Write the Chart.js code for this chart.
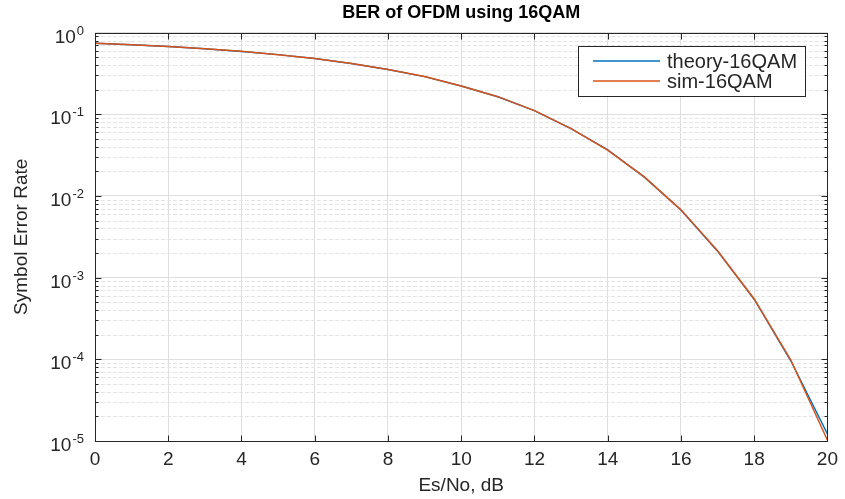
<!DOCTYPE html>
<html lang="en">
<head>
    <meta charset="UTF-8">
    <title>BER of OFDM using 16QAM</title>
    <script src="https://cdn.jsdelivr.net/npm/chart.js"></script>
    <style>
        body { margin: 0; background: #fff; }
        canvas { display: block; }
    </style>
</head>
<body>
    <canvas id="berChart" width="845" height="499"></canvas>

    <script>
        // Es/No in dB and the two SER curves
        const esNo = [0, 1, 2, 3, 4, 5, 6, 7, 8, 9, 10, 11, 12, 13, 14, 15, 16, 17, 18, 19, 20];
        const theorySER = [0.741, 0.710, 0.675, 0.635, 0.589, 0.5375, 0.481, 0.419, 0.354, 0.289, 0.222,
                           0.164, 0.111, 0.0667, 0.0366, 0.0170, 0.00673, 0.00211, 0.000545, 0.000096, 0.0000122];
        const simSER = [0.7405, 0.7098, 0.6752, 0.6347, 0.5893, 0.5372, 0.4808, 0.4184, 0.3539, 0.2893, 0.2218,
                        0.1643, 0.1108, 0.0668, 0.0364, 0.0171, 0.00676, 0.00213, 0.000548, 0.000098, 0.0000102];
        const decades = [1e-5, 1e-4, 1e-3, 1e-2, 1e-1, 1];
        const decadeExp = ['-5', '-4', '-3', '-2', '-1', '0'];
        const seriesNames = ['theory-16QAM', 'sim-16QAM'];

        const BLUE = '#0072BD';
        const ORANGE = '#D95319';
        const AXIS = '#262626';
        const FONT = '"Liberation Sans", Arial, sans-serif';

        // matlab style box, ticks, minor grid, y labels and legend
        const matlabAxes = {
            id: 'matlabAxes',
            beforeDatasetsDraw(chart) {
                const ctx = chart.ctx;
                const a = chart.chartArea;
                const y = chart.scales.y;
                ctx.save();
                ctx.strokeStyle = '#e4e4e4';
                ctx.lineWidth = 1;
                ctx.setLineDash([4, 2]);
                for (let k = -5; k < 0; k++) {
                    for (let d = 2; d <= 9; d++) {
                        const py = Math.round(y.getPixelForValue(d * Math.pow(10, k))) + 0.5;
                        ctx.beginPath();
                        ctx.moveTo(a.left, py);
                        ctx.lineTo(a.right, py);
                        ctx.stroke();
                    }
                }
                ctx.restore();
            },
            afterDraw(chart) {
                const ctx = chart.ctx;
                const a = chart.chartArea;
                const x = chart.scales.x;
                const y = chart.scales.y;
                ctx.save();
                ctx.strokeStyle = AXIS;
                ctx.lineWidth = 1;
                ctx.setLineDash([]);
                const L = Math.round(a.left) + 0.5, R = Math.round(a.right) + 0.5;
                const T = Math.round(a.top) + 0.5, B = Math.round(a.bottom) + 0.5;
                ctx.strokeRect(L, T, R - L, B - T);

                // x ticks, inward top and bottom
                ctx.beginPath();
                for (let v = 0; v <= 20; v += 2) {
                    const px = Math.round(x.getPixelForValue(v)) + 0.5;
                    ctx.moveTo(px, B); ctx.lineTo(px, B - 6);
                    ctx.moveTo(px, T); ctx.lineTo(px, T + 6);
                }
                // y ticks, decades and minor
                for (let k = -5; k <= 0; k++) {
                    for (let d = 1; d <= 9; d++) {
                        if (k === 0 && d > 1) break;
                        const py = Math.round(y.getPixelForValue(d * Math.pow(10, k))) + 0.5;
                        const len = d === 1 ? 6 : 3;
                        ctx.moveTo(L, py); ctx.lineTo(L + len, py);
                        ctx.moveTo(R, py); ctx.lineTo(R - len, py);
                    }
                }
                ctx.stroke();

                // y tick labels 10^k
                ctx.fillStyle = AXIS;
                ctx.textBaseline = 'alphabetic';
                decades.forEach((v, i) => {
                    const py = y.getPixelForValue(v);
                    ctx.font = '13px ' + FONT;
                    const ew = ctx.measureText(decadeExp[i]).width;
                    ctx.textAlign = 'left';
                    ctx.fillText(decadeExp[i], 84 - ew, py + 2);
                    ctx.font = '19px ' + FONT;
                    ctx.textAlign = 'right';
                    ctx.fillText('10', 84 - ew - 1, py + 10);
                });

                // legend box
                const bx = 578.5, by = 46.5, bw = 227, bh = 50;
                ctx.fillStyle = '#fff';
                ctx.fillRect(bx, by, bw, bh);
                ctx.strokeStyle = AXIS;
                ctx.strokeRect(bx, by, bw, bh);
                const colors = [BLUE, ORANGE];
                ctx.font = '20px ' + FONT;
                ctx.textAlign = 'left';
                ctx.textBaseline = 'middle';
                seriesNames.forEach((name, i) => {
                    const ly = 61 + i * 20;
                    ctx.strokeStyle = colors[i];
                    ctx.lineWidth = 1.5;
                    ctx.beginPath();
                    ctx.moveTo(593, ly);
                    ctx.lineTo(660, ly);
                    ctx.stroke();
                    ctx.fillStyle = AXIS;
                    ctx.fillText(name, 667, ly + 1);
                });
                ctx.restore();
            }
        };

        new Chart(document.getElementById('berChart'), {
            type: 'line',
            data: {
                labels: esNo,
                datasets: [
                    {
                        label: seriesNames[0],
                        data: esNo.map((v, i) => ({ x: v, y: theorySER[i] })),
                        borderColor: BLUE,
                        borderWidth: 1.5,
                        pointRadius: 0,
                        tension: 0,
                        order: 1
                    },
                    {
                        label: seriesNames[1],
                        data: esNo.map((v, i) => ({ x: v, y: simSER[i] })),
                        borderColor: ORANGE,
                        borderWidth: 1.5,
                        pointRadius: 0,
                        tension: 0,
                        order: 0
                    }
                ]
            },
            options: {
                responsive: false,
                animation: false,
                layout: { padding: { left: 0, right: 17, top: 0, bottom: 0 } },
                plugins: {
                    legend: { display: false },
                    tooltip: { enabled: false },
                    title: {
                        display: true,
                        fullSize: false,
                        text: 'BER of OFDM using 16QAM',
                        color: '#000',
                        font: { family: FONT, size: 18, weight: 'bold' },
                        padding: { top: 2, bottom: 9 }
                    }
                },
                scales: {
                    x: {
                        type: 'linear',
                        min: 0,
                        max: 20,
                        afterFit: s => { s.height = 58; },
                        ticks: { stepSize: 2, color: AXIS, font: { family: FONT, size: 19 }, padding: 7, maxRotation: 0 },
                        grid: { color: '#dedede', drawTicks: false },
                        border: { display: false },
                        title: {
                            display: true,
                            text: 'Es/No, dB',
                            color: AXIS,
                            font: { family: FONT, size: 19 },
                            padding: { top: 0, bottom: 2 }
                        }
                    },
                    y: {
                        type: 'logarithmic',
                        min: 1e-5,
                        max: 1,
                        afterFit: s => { s.width = 95; },
                        afterBuildTicks: s => { s.ticks = decades.map(v => ({ value: v })); },
                        ticks: { display: false },
                        grid: { color: '#dedede', drawTicks: false },
                        border: { display: false },
                        title: {
                            display: true,
                            text: 'Symbol Error Rate',
                            color: AXIS,
                            font: { family: FONT, size: 19 },
                            padding: { top: 10, bottom: 0 }
                        }
                    }
                }
            },
            plugins: [matlabAxes]
        });
    </script>
</body>
</html>
